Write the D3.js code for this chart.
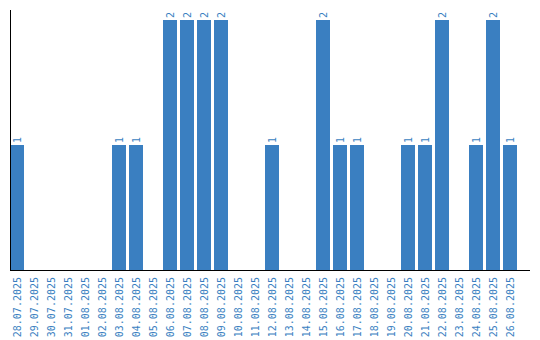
<!DOCTYPE html>
<html><head><meta charset="utf-8">
<script src="https://cdn.jsdelivr.net/npm/d3@7"></script>
<style>body{margin:0;background:#fff}svg{display:block}text{font-family:"DejaVu Sans Mono",monospace;}</style>
</head><body><svg id="c" width="540" height="340"></svg>
<script>
const dates = ["28.07.2025","29.07.2025","30.07.2025","31.07.2025","01.08.2025","02.08.2025","03.08.2025","04.08.2025","05.08.2025","06.08.2025","07.08.2025","08.08.2025","09.08.2025","10.08.2025","11.08.2025","12.08.2025","13.08.2025","14.08.2025","15.08.2025","16.08.2025","17.08.2025","18.08.2025","19.08.2025","20.08.2025","21.08.2025","22.08.2025","23.08.2025","24.08.2025","25.08.2025","26.08.2025"];
const values = [1,0,0,0,0,0,1,1,0,2,2,2,2,0,0,1,0,0,2,1,1,0,0,1,1,2,0,1,2,1];

(function(){
const svg = d3.select("#c");
const mLeft = 10, mBottom = 270, mTop = 20, axisTop = 10, axisRight = 530;
const color = "#3a7fc1";
const x = d3.scaleBand().domain(dates).range([mLeft, mLeft + 17*dates.length]).paddingInner(3/17).paddingOuter(3/34).align(0);
const y = d3.scaleLinear().domain([0, d3.max(values)]).range([mBottom, mTop]);

svg.selectAll("rect.bar").data(values).join("rect")
  .attr("x", (d,i)=>x(dates[i])).attr("width", x.bandwidth())
  .attr("y", d=>y(d)).attr("height", d=>mBottom - y(d))
  .attr("fill", color);

svg.selectAll("text.val").data(values.map((v,i)=>({v,i})).filter(o=>o.v>0)).join("text")
  .attr("transform", o=>`translate(${x(dates[o.i]) + x.bandwidth()/2 + 3.5},${y(o.v)-2}) rotate(-90)`)
  .attr("font-size", 10).attr("fill", color).text(o=>o.v);

svg.selectAll("text.tick").data(dates).join("text")
  .attr("transform", d=>`translate(${x(d) + x.bandwidth()/2 + 3.5},${mBottom+7}) rotate(-90)`)
  .attr("text-anchor","end").attr("font-size", 10).attr("fill", color).text(d=>d);

svg.append("line").attr("x1",mLeft+0.5).attr("x2",mLeft+0.5).attr("y1",axisTop).attr("y2",mBottom).attr("stroke","#000");
svg.append("line").attr("x1",mLeft).attr("x2",axisRight).attr("y1",mBottom+0.5).attr("y2",mBottom+0.5).attr("stroke","#000");
})();
</script></body></html>
